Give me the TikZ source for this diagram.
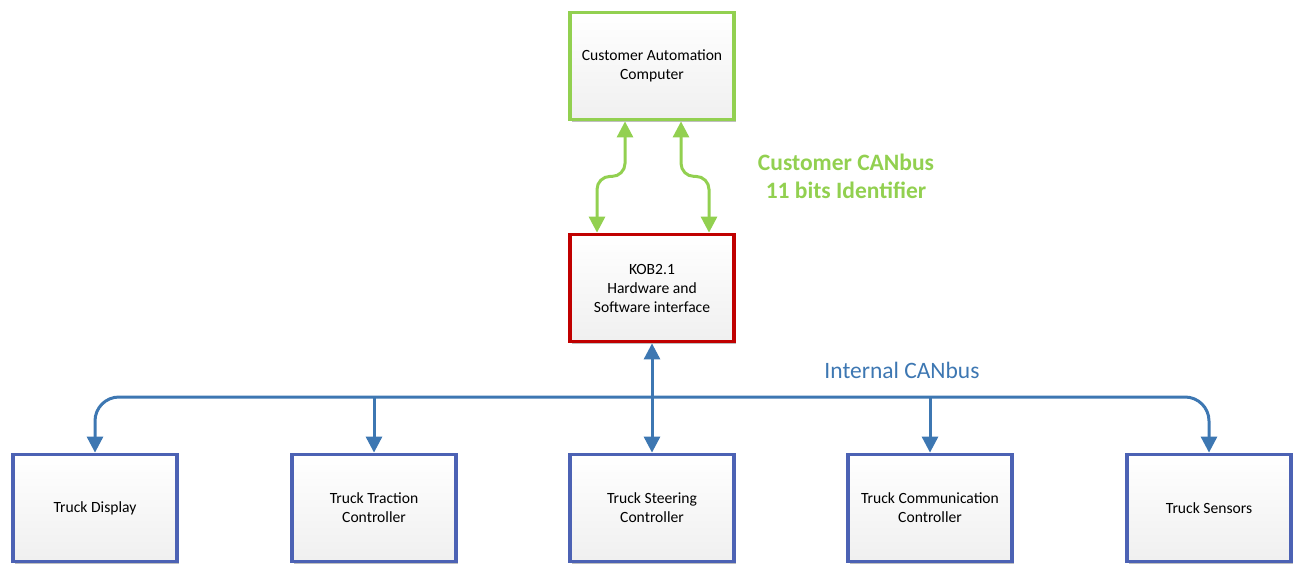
\documentclass[tikz,border=0pt]{standalone}
\usepackage{fontspec}
\setmainfont{Carlito}
\usetikzlibrary{arrows.meta,shadows,calc}
\definecolor{cgreen}{RGB}{146,208,80}
\definecolor{cred}{RGB}{192,0,0}
\definecolor{cboxblue}{RGB}{76,98,180}
\definecolor{cline}{RGB}{61,119,178}
\tikzset{
  box/.style={draw, line width=3.8pt, minimum width=164pt, minimum height=107pt,
    top color=white, bottom color=black!6, align=center, inner sep=2pt,
    font=\fontsize{15.6}{19}\selectfont,
    drop shadow={shadow xshift=2pt, shadow yshift=-2pt, opacity=0.25, fill=black}},
  greenbox/.style={box, draw=cgreen},
  redbox/.style={box, draw=cred},
  bluebox/.style={box, draw=cboxblue},
  garrow/.style={draw=cgreen, line width=3pt,
    {Triangle[length=16pt,width=16pt,fill=cgreen]}-{Triangle[length=16pt,width=16pt,fill=cgreen]}},
  barrow/.style={draw=cline, line width=3pt},
  btip/.style={-{Triangle[length=16pt,width=16pt,fill=cline]}},
  bboth/.style={{Triangle[length=16pt,width=16pt,fill=cline]}-{Triangle[length=16pt,width=16pt,fill=cline]}},
}
\begin{document}
\begin{tikzpicture}[x=1pt,y=-1pt]
\useasboundingbox (0,0) rectangle (1295,565);
\node[greenbox] (cust) at (652,66) {Customer Automation\\Computer};
\node[redbox] (kob) at (652,288) {KOB2.1\\Hardware and\\Software interface};
\node[bluebox] (disp) at (95,508) {Truck Display};
\node[bluebox] (trac) at (374,508) {Truck Traction\\Controller};
\node[bluebox] (steer) at (652,508) {Truck Steering\\Controller};
\node[bluebox] (comm) at (930,508) {Truck Communication\\Controller};
\node[bluebox] (sens) at (1209,508) {Truck Sensors};
\coordinate (bus) at (652,397);
% green connectors
\draw[garrow] ([xshift=-27pt]cust.south) [rounded corners=13pt] -- ++(0,55) -| ([xshift=-55pt]kob.north);
\draw[garrow] ([xshift=29pt]cust.south) [rounded corners=13pt] -- ++(0,55) -| ([xshift=57pt]kob.north);
% blue bus
\draw[barrow,bboth] (disp.north) [rounded corners=24pt] |- (bus) -| (sens.north);
\draw[barrow,btip] (trac.north |- bus) -- (trac.north);
\draw[barrow,btip] (comm.north |- bus) -- (comm.north);
\draw[barrow,bboth] (kob.south) -- (steer.north);
% labels
\node[text=cgreen, font=\bfseries\fontsize{23.5}{28}\selectfont, align=center] (lblc) at (846,176) {Customer CANbus\\11 bits Identifier};
\node[text=cline, font=\fontsize{23.5}{28}\selectfont] (lbli) at (902,370) {Internal CANbus};
\end{tikzpicture}
\end{document}
